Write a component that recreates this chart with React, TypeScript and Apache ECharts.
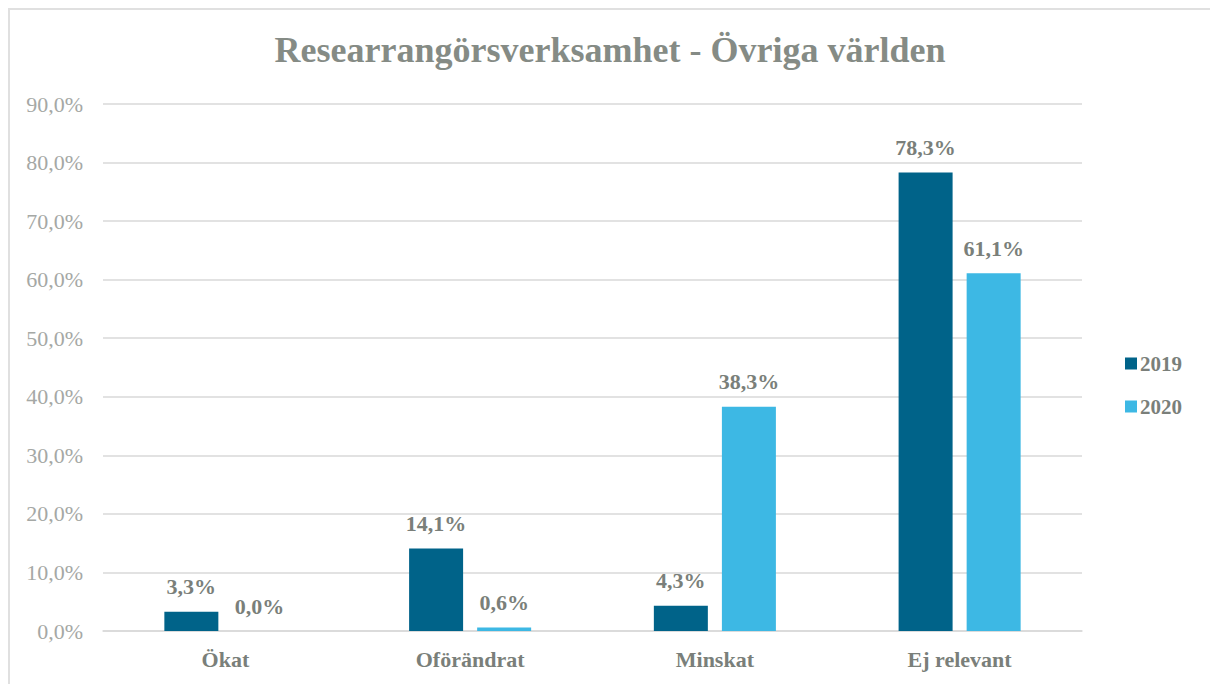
import React, { useEffect, useRef } from "react";
import * as echarts from "echarts";

const categories = ["Ökat", "Oförändrat", "Minskat", "Ej relevant"];
const series2019 = [3.3, 14.1, 4.3, 78.3];
const series2020 = [0.0, 0.6, 38.3, 61.1];
const seriesNames = ["2019", "2020"];
const titleText = "Researrangörsverksamhet - Övriga världen";

const FONT = "'Liberation Serif', 'DejaVu Serif', serif";
const fmt = (v: number) => v.toFixed(1).replace(".", ",") + "%";

export default function App() {
  const ref = useRef<HTMLDivElement>(null);
  useEffect(() => {
    if (!ref.current) return;
    const chart = echarts.init(ref.current, undefined, { renderer: "svg" });
    const labelStyle = {
      show: true,
      position: "top" as const,
      distance: 14,
      fontFamily: FONT,
      fontSize: 22,
      fontWeight: "bold" as const,
      color: "#7a7f7a",
      formatter: (p: any) => fmt(p.value),
    };
    chart.setOption({
      animation: false,
      backgroundColor: "#ffffff",
      title: {
        text: titleText,
        left: "center",
        top: 17,
        textStyle: { fontFamily: FONT, fontSize: 36, fontWeight: "bold", color: "#858b85" },
      },
      legend: {
        orient: "vertical",
        left: 1110,
        top: 338,
        itemWidth: 12,
        itemHeight: 12,
        itemGap: 22,
        icon: "rect",
        textStyle: { fontFamily: FONT, fontSize: 21, fontWeight: "bold", color: "#7a7f7a", padding: [0, 0, 0, -2] },
        data: seriesNames,
      },
      grid: { left: 93, right: 128, top: 94, bottom: 53, containLabel: false },
      xAxis: {
        type: "category",
        data: categories,
        axisLine: { lineStyle: { color: "#d9d9d9", width: 1.5 } },
        axisTick: { show: false },
        axisLabel: { fontFamily: FONT, fontSize: 22, fontWeight: "bold", color: "#7a7f7a", margin: 17 },
      },
      yAxis: {
        type: "value",
        min: 0,
        max: 90,
        interval: 10,
        axisLine: { show: false },
        axisTick: { show: false },
        splitLine: { lineStyle: { color: "#d9d9d9", width: 1.5 } },
        axisLabel: { fontFamily: FONT, fontSize: 22, color: "#a5a8a5", margin: 20, formatter: (v: number) => fmt(v) },
      },
      series: [
        {
          name: seriesNames[0],
          type: "bar",
          data: series2019,
          barWidth: 54,
          barGap: "26%",
          itemStyle: { color: "#006389" },
          label: labelStyle,
        },
        {
          name: seriesNames[1],
          type: "bar",
          data: series2020,
          barWidth: 54,
          itemStyle: { color: "#3db8e4" },
          label: labelStyle,
        },
      ],
    });
    return () => chart.dispose();
  }, []);
  return (
    <div
      style={{
        position: "fixed",
        left: 8,
        top: 8,
        width: 1202,
        height: 676,
        boxSizing: "border-box",
        borderTop: "2px solid #e0e0e0",
        borderLeft: "2px solid #e0e0e0",
        overflow: "hidden",
      }}
    >
      <div ref={ref} style={{ width: 1200, height: 674 }} />
    </div>
  );
}
